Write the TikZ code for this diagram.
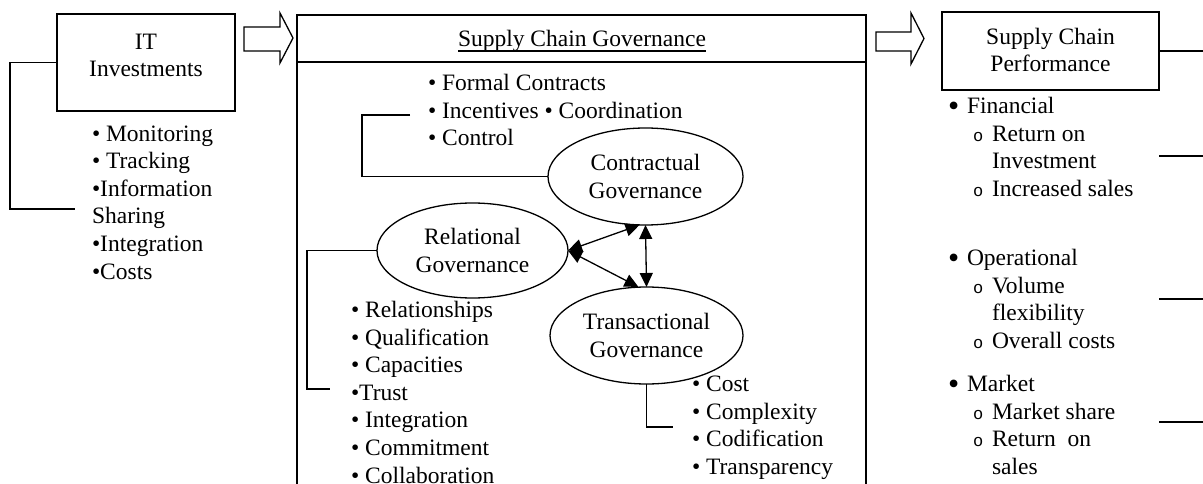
\documentclass[tikz,border=0pt]{standalone}
\usepackage{fontspec}
\setmainfont{Liberation Serif}
\newfontfamily\monofam{Liberation Mono}
\usetikzlibrary{arrows.meta,shapes.geometric}
\newcommand\lstmark[1]{\makebox[19pt][l]{#1}}
\newcommand\bigbul{\raisebox{-2.5pt}{\fontsize{32}{27.6}\selectfont •}}
\newcommand\subbul{{\monofam\fontsize{17}{27.6}\selectfont o}}
\tikzset{
  every node/.style={inner sep=0pt, outer sep=0pt, font=\fontsize{23.5}{27.6}\selectfont},
  boxst/.style={draw, line width=1.5pt, rectangle},
  govell/.style={draw, ellipse, line width=1.3pt, align=center},
  listtxt/.style={align=left, anchor=base west},
  conn/.style={line width=1.5pt},
  biarrow/.style={line width=1.3pt, {Triangle[length=14pt,width=13pt]}-{Triangle[length=14pt,width=13pt]}},
  blockarrow/.style={draw, line width=1.3pt, fill=white},
}
\begin{document}
\begin{tikzpicture}[x=1pt,y=-1pt]
\useasboundingbox (0,0) rectangle (1203,484);

% IT investments (multi-line nodes: base anchor = last line)
\node[boxst, minimum width=178pt, minimum height=97pt] (it) at (146,62.5) {};
\node[align=center, anchor=base] (itt) at (146,77) {IT\\Investments};
\node[listtxt] (itlist) at (92,279) {• Monitoring\\• Tracking\\•Information\\Sharing\\•Integration\\•Costs};
\coordinate (itend) at (75,209);
\draw[conn] (it.west) -- (10,62.5) |- (itend);

% block arrows
\draw[blockarrow] (244,27) -- (280,27) -- (280,13) -- (293,38) -- (280,63) -- (280,51) -- (244,51) -- cycle;
\draw[blockarrow] (876,32) -- (911,32) -- (911,13) -- (924,38.5) -- (911,64) -- (911,51) -- (876,51) -- cycle;

% Supply chain governance frame
\node[boxst, minimum width=569pt, minimum height=47pt] (scg) at (581.5,38.5) {};
\coordinate (scgbl) at (297,490);
\coordinate (scgbr) at (866,490);
\draw[conn] (scg.south west) -- (scgbl);
\draw[conn] (scg.south east) -- (scgbr);
\node[anchor=base] (sgt) at (582,47) {Supply Chain Governance};
\draw[line width=1.2pt] ([yshift=-4pt]sgt.base west) -- ([yshift=-4pt]sgt.base east);

% contractual
\node[listtxt] (contrlist) at (428,146) {• Formal Contracts\\• Incentives • Coordination\\• Control};
\node[govell, minimum width=195pt, minimum height=97pt] (contr) at (645.5,176.5) {Contractual\\Governance};
\coordinate (cbr) at (410,115);
\draw[conn] (cbr) -- (362,115) |- (contr.west);

% relational
\node[govell, minimum width=191pt, minimum height=95pt] (rel) at (472.5,250.5) {Relational\\Governance};
\node[listtxt] (rellist) at (351,483) {• Relationships\\• Qualification\\• Capacities\\•Trust\\• Integration\\• Commitment\\• Collaboration};
\coordinate (relend) at (330,389);
\draw[conn] (rel.west) -- (307,250.5) |- (relend);

% transactional
\node[govell, minimum width=193pt, minimum height=97pt] (trans) at (646.5,335.5) {Transactional\\Governance};
\node[listtxt] (translist) at (692,474.5) {• Cost\\• Complexity\\• Codification\\• Transparency};
\coordinate (transend) at (673,427);
\draw[conn] (trans.south) |- (transend);

% arrows between governance types
\draw[biarrow] (rel.east) -- ([xshift=-6pt]contr.south);
\draw[biarrow] (rel.east) -- ([xshift=-8pt]trans.north);
\draw[biarrow] (contr.south) -- (trans.north);

% performance
\node[boxst, minimum width=217pt, minimum height=78pt] (perf) at (1050.5,51) {};
\node[align=center, anchor=base] (perft) at (1050.5,72) {Supply Chain\\Performance};
\coordinate (perfend) at (1205,51);
\draw[conn] (perf.east) -- (perfend);

\node[listtxt] (fin) at (948,196.5) {\lstmark{\bigbul}Financial\\\hspace*{25pt}\lstmark{\subbul}Return on\\\hspace*{44pt}Investment\\\hspace*{25pt}\lstmark{\subbul}Increased sales};
\node[listtxt] (oper) at (948,348.5) {\lstmark{\bigbul}Operational\\\hspace*{25pt}\lstmark{\subbul}Volume\\\hspace*{44pt}flexibility\\\hspace*{25pt}\lstmark{\subbul}Overall costs};
\node[listtxt] (mkt) at (948,474.5) {\lstmark{\bigbul}Market\\\hspace*{25pt}\lstmark{\subbul}Market share\\\hspace*{25pt}\lstmark{\subbul}Return\ \ on\\\hspace*{44pt}sales};

\coordinate (r1a) at (1159,156); \coordinate (r1b) at (1205,156);
\coordinate (r2a) at (1159,299); \coordinate (r2b) at (1205,299);
\coordinate (r3a) at (1159,422); \coordinate (r3b) at (1205,422);
\draw[conn] (r1a) -- (r1b);
\draw[conn] (r2a) -- (r2b);
\draw[conn] (r3a) -- (r3b);
\end{tikzpicture}
\end{document}
